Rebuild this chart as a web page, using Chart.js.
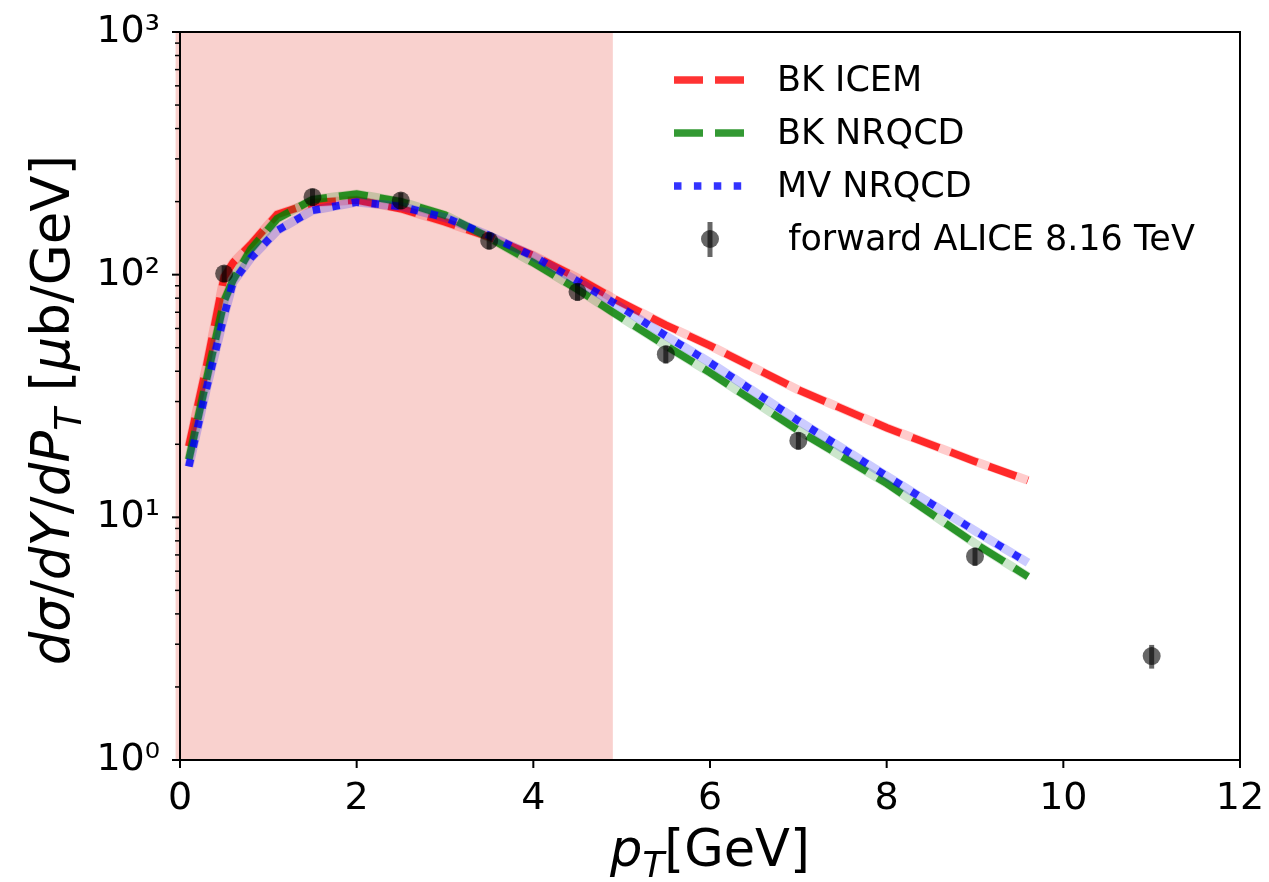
<!DOCTYPE html>
<html>
<head>
<meta charset="utf-8">
<script src="https://cdn.jsdelivr.net/npm/chart.js@4.4.1/dist/chart.umd.min.js"></script>
<style>
    html, body { margin: 0; padding: 0; background: #fff; }
    canvas { display: block; }
</style>
</head>
<body>
<canvas id="chart" width="1269" height="882"></canvas>
<script>
// pT sample points of the model curves
const curveX = [0.1, 0.3, 0.5, 0.6, 0.8, 1.1, 1.5, 2.0, 2.5, 3.0, 3.5, 4.0, 4.5, 4.9, 5.5, 6.0, 7.0, 8.0, 9.0, 9.6];
const bkIcem = [19.6, 42, 98, 112, 133, 177, 198, 203, 187, 165, 143, 120, 97, 80, 62, 51, 33.5, 23.4, 17.0, 14.2];
const bkNrqcd = [17.3, 37, 78, 95, 127, 170, 204, 215, 200, 176, 142, 112, 87, 70, 51, 39.5, 22.8, 13.8, 7.8, 5.7];
const mvNrqcd = [16.2, 34, 68, 93, 117, 152, 184, 199, 191, 172, 145, 119, 94, 77, 56, 43.4, 25, 14.8, 8.8, 6.5];

// ALICE forward data
const aliceX = [0.5, 1.5, 2.5, 3.5, 4.5, 5.5, 7, 9, 11];
const aliceY = [101, 209, 202, 138, 85, 47, 20.7, 6.9, 2.68];
const aliceErr = [8, 17, 16, 11, 7, 4, 1.7, 0.6, 0.3];

const xTicks = [0, 2, 4, 6, 8, 10, 12];
const yTicks = [1, 10, 100, 1000];
const yTickLabels = ['10\u2070', '10\u00b9', '10\u00b2', '10\u00b3'];
const shadedRange = [-0.05, 4.9];

const FONT = 'DejaVu Sans';

const toXY = (xs, ys) => xs.map((x, i) => ({ x: x, y: ys[i] }));

function curvePair(data, rgb, dash, order) {
    return [
        {
            data: data,
            borderColor: `rgba(${rgb}, 0.2)`,
            borderWidth: 9,
            pointRadius: 0,
            order: order + 1
        },
        {
            data: data,
            borderColor: `rgba(${rgb}, 0.8)`,
            borderWidth: 7.5,
            borderDash: dash,
            borderCapStyle: 'butt',
            pointRadius: 0,
            order: order
        }
    ];
}

// draws a list of text runs (italic / subscript) centred on the origin
function drawRuns(ctx, runs, size) {
    const fontOf = r => `${r.it ? 'italic ' : ''}${r.sub ? size * 0.7 : size}px "${FONT}"`;
    let total = 0;
    runs.forEach(r => { ctx.font = fontOf(r); total += ctx.measureText(r.t).width; });
    let x = -total / 2;
    ctx.textAlign = 'left';
    ctx.textBaseline = 'alphabetic';
    runs.forEach(r => {
        ctx.font = fontOf(r);
        ctx.fillText(r.t, x, r.sub ? size * 0.22 : 0);
        x += ctx.measureText(r.t).width;
    });
}

const decorations = {
    id: 'decorations',
    beforeDraw(chart) {
        const { ctx, chartArea: a, scales: { x } } = chart;
        ctx.save();
        ctx.fillStyle = '#f9d1ce';
        const x0 = x.getPixelForValue(shadedRange[0]);
        const x1 = x.getPixelForValue(shadedRange[1]);
        ctx.fillRect(x0, a.top, x1 - x0, a.bottom - a.top);
        ctx.restore();
    },
    afterDatasetsDraw(chart) {
        const { ctx, scales: { x, y } } = chart;
        ctx.save();
        ctx.strokeStyle = 'rgba(0, 0, 0, 0.6)';
        ctx.lineWidth = 5;
        aliceX.forEach((v, i) => {
            const px = x.getPixelForValue(v);
            ctx.beginPath();
            ctx.moveTo(px, y.getPixelForValue(aliceY[i] - aliceErr[i]));
            ctx.lineTo(px, y.getPixelForValue(aliceY[i] + aliceErr[i]));
            ctx.stroke();
        });
        ctx.restore();
    },
    afterDraw(chart) {
        const { ctx, chartArea: a, scales: { x, y } } = chart;
        ctx.save();
        ctx.strokeStyle = '#000';

        // frame
        ctx.lineWidth = 2;
        ctx.strokeRect(a.left, a.top, a.right - a.left, a.bottom - a.top);

        // x ticks
        xTicks.forEach(v => {
            const px = x.getPixelForValue(v);
            ctx.beginPath();
            ctx.moveTo(px, a.bottom);
            ctx.lineTo(px, a.bottom + 8);
            ctx.stroke();
        });

        // y major + minor ticks
        for (let d = 1; d < 1000; d *= 10) {
            for (let m = 1; m <= 9; m++) {
                const py = y.getPixelForValue(d * m);
                ctx.lineWidth = m === 1 ? 2 : 1.5;
                ctx.beginPath();
                ctx.moveTo(a.left, py);
                ctx.lineTo(a.left - (m === 1 ? 8 : 5), py);
                ctx.stroke();
            }
        }
        ctx.lineWidth = 2;
        ctx.beginPath();
        ctx.moveTo(a.left, y.getPixelForValue(1000));
        ctx.lineTo(a.left - 8, y.getPixelForValue(1000));
        ctx.stroke();

        // axis titles
        ctx.fillStyle = '#000';
        ctx.save();
        ctx.translate((a.left + a.right) / 2, 866);
        drawRuns(ctx, [{ t: 'p', it: true }, { t: 'T', it: true, sub: true }, { t: '[GeV]' }], 51);
        ctx.restore();

        ctx.save();
        ctx.translate(69, 410);
        ctx.rotate(-Math.PI / 2);
        drawRuns(ctx, [
            { t: 'd\u03c3', it: true }, { t: '/' }, { t: 'dY', it: true }, { t: '/' },
            { t: 'dP', it: true }, { t: 'T', it: true, sub: true }, { t: ' [' },
            { t: '\u03bc', it: true }, { t: 'b/GeV]' }
        ], 53);
        ctx.restore();

        // legend
        const rows = [
            { label: 'BK ICEM', color: 'rgba(255, 0, 0, 0.8)', dash: [29, 12], y: 80 },
            { label: 'BK NRQCD', color: 'rgba(0, 128, 0, 0.8)', dash: [29, 12], y: 133 },
            { label: 'MV NRQCD', color: 'rgba(0, 0, 255, 0.8)', dash: [7.5, 12.4], y: 186 }
        ];
        ctx.font = `35px "${FONT}"`;
        ctx.textAlign = 'left';
        ctx.textBaseline = 'middle';
        rows.forEach(r => {
            ctx.strokeStyle = r.color;
            ctx.lineWidth = 7.5;
            ctx.lineCap = 'butt';
            ctx.setLineDash(r.dash);
            ctx.beginPath();
            ctx.moveTo(674, r.y);
            ctx.lineTo(744, r.y);
            ctx.stroke();
            ctx.fillText(r.label, 777, r.y + 2);
        });
        ctx.setLineDash([]);
        ctx.fillStyle = 'rgba(0, 0, 0, 0.6)';
        ctx.beginPath();
        ctx.arc(710, 239, 9, 0, Math.PI * 2);
        ctx.fill();
        ctx.strokeStyle = 'rgba(0, 0, 0, 0.6)';
        ctx.lineWidth = 5;
        ctx.beginPath();
        ctx.moveTo(710, 222);
        ctx.lineTo(710, 257);
        ctx.stroke();
        ctx.fillStyle = '#000';
        ctx.fillText(' forward ALICE 8.16 TeV', 777, 241);

        ctx.restore();
    }
};

new Chart(document.getElementById('chart'), {
    type: 'line',
    data: {
        datasets: [
            ...curvePair(toXY(curveX, bkIcem), '255, 0, 0', [29, 12], 6),
            ...curvePair(toXY(curveX, bkNrqcd), '0, 128, 0', [29, 12], 4),
            ...curvePair(toXY(curveX, mvNrqcd), '0, 0, 255', [7.5, 12.4], 2),
            {
                data: toXY(aliceX, aliceY),
                showLine: false,
                pointRadius: 9,
                pointBorderWidth: 0,
                pointBackgroundColor: 'rgba(0, 0, 0, 0.6)',
                order: 1
            }
        ]
    },
    options: {
        responsive: false,
        animation: false,
        layout: { padding: { left: 0, top: 32, right: 29, bottom: 0 } },
        plugins: {
            legend: { display: false },
            tooltip: { enabled: false }
        },
        elements: { line: { tension: 0, fill: false } },
        scales: {
            x: {
                type: 'linear',
                min: 0,
                max: 12,
                afterBuildTicks: s => { s.ticks = xTicks.map(v => ({ value: v })); },
                afterFit: s => {
                    s.height = 122;
                    s.paddingLeft = 0;
                    s.paddingRight = 0;
                },
                grid: { display: false, drawTicks: false },
                border: { display: false },
                ticks: {
                    padding: 16,
                    maxRotation: 0,
                    color: '#000',
                    font: { family: FONT, size: 38 }
                }
            },
            y: {
                type: 'logarithmic',
                min: 1,
                max: 1000,
                afterBuildTicks: s => { s.ticks = yTicks.map(v => ({ value: v })); },
                afterFit: s => {
                    s.width = 180;
                    s.paddingTop = 0;
                    s.paddingBottom = 0;
                },
                grid: { display: false, drawTicks: false },
                border: { display: false },
                ticks: {
                    padding: 20,
                    color: '#000',
                    font: { family: FONT, size: 38 },
                    callback: (v) => yTickLabels[yTicks.indexOf(v)] ?? ''
                }
            }
        }
    },
    plugins: [decorations]
});
</script>
</body>
</html>
